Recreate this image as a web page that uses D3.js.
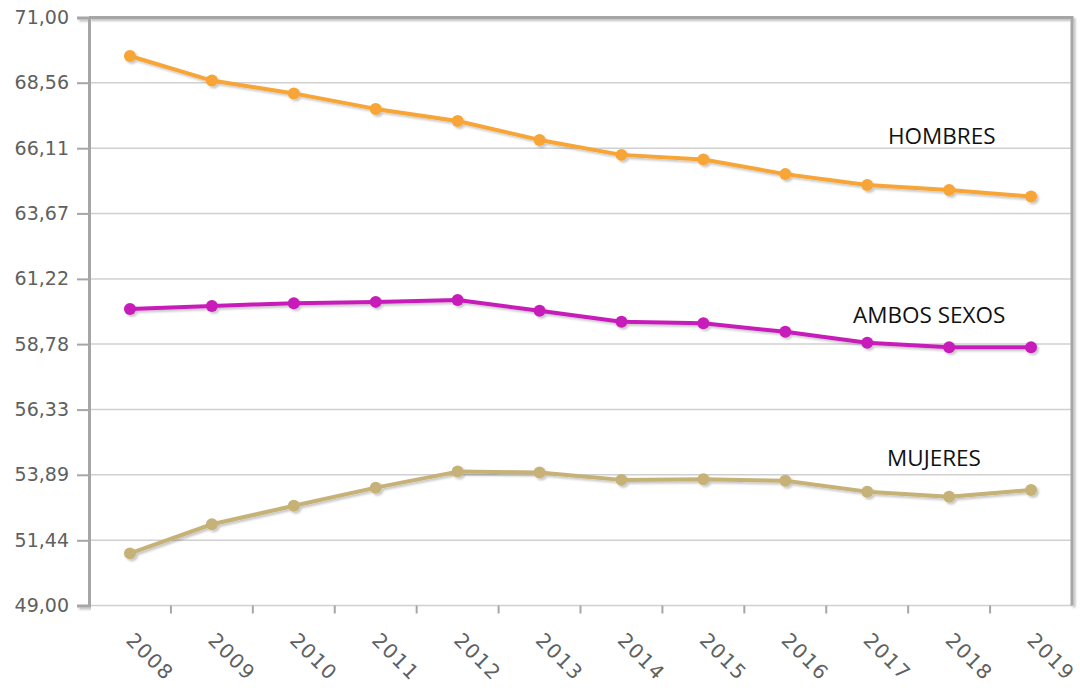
<!DOCTYPE html>
<html>
<head>
<meta charset="utf-8">
<script src="https://cdn.jsdelivr.net/npm/d3@7"></script>
<style>
  html, body { margin: 0; padding: 0; background: #fff; }
  svg { display: block; }
</style>
</head>
<body>
<svg id="chart" width="1080" height="688"></svg>
<script>
// Years on the horizontal axis
const years = ["2008", "2009", "2010", "2011", "2012", "2013", "2014", "2015", "2016", "2017", "2018", "2019"];

// Rates per series, one value per year
const hombres = [69.56, 68.64, 68.16, 67.58, 67.13, 66.42, 65.86, 65.69, 65.14, 64.73, 64.55, 64.30];
const ambosSexos = [60.09, 60.21, 60.31, 60.36, 60.43, 60.03, 59.62, 59.56, 59.24, 58.83, 58.66, 58.66];
const mujeres = [50.95, 52.04, 52.73, 53.41, 54.01, 53.98, 53.70, 53.72, 53.67, 53.26, 53.07, 53.32];

// Vertical axis tick values
const yTicks = [49.00, 51.44, 53.89, 56.33, 58.78, 61.22, 63.67, 66.11, 68.56, 71.00];

const seriesNames = ["HOMBRES", "AMBOS SEXOS", "MUJERES"];

const svg = d3.select("#chart");
const plot = { left: 89, right: 1072, top: 17.5, bottom: 605.5 };

const x = d3.scaleBand().domain(years).range([plot.left, plot.right]);
const y = d3.scaleLinear().domain([49, 71]).range([plot.bottom, plot.top]);

const fmt = v => d3.format(".2f")(v).replace(".", ",");

// Shadow used by lines, markers and frame
const defs = svg.append("defs");
const sh = defs.append("filter").attr("id", "shadow")
  .attr("x", "-10%").attr("y", "-10%").attr("width", "130%").attr("height", "130%");
sh.append("feDropShadow").attr("dx", 2).attr("dy", 2).attr("stdDeviation", 1.3)
  .attr("flood-color", "#000").attr("flood-opacity", 0.22);
const fsh = defs.append("filter").attr("id", "frameShadow")
  .attr("x", "-5%").attr("y", "-5%").attr("width", "110%").attr("height", "110%");
fsh.append("feDropShadow").attr("dx", 2).attr("dy", 2).attr("stdDeviation", 1.2)
  .attr("flood-color", "#000").attr("flood-opacity", 0.25);

// Horizontal gridlines
svg.append("g").selectAll("line").data(yTicks).join("line")
  .attr("x1", plot.left).attr("x2", plot.right)
  .attr("y1", d => y(d)).attr("y2", d => y(d))
  .attr("stroke", "#d0d0d0").attr("stroke-width", 1.5);

// Frame: top and right edges
svg.append("path")
  .attr("d", `M${plot.left},${plot.top} H${plot.right} V${plot.bottom}`)
  .attr("fill", "none").attr("stroke", "#a6a6a6").attr("stroke-width", 3)
  .attr("filter", "url(#frameShadow)");

// Left axis
const yAxis = d3.axisLeft(y).tickValues(yTicks).tickFormat(fmt).tickSize(12).tickPadding(8);
const gy = svg.append("g").attr("transform", `translate(${plot.left},0)`).call(yAxis);
gy.select(".domain").attr("stroke", "#a6a6a6").attr("stroke-width", 3)
  .attr("filter", "url(#frameShadow)");
gy.selectAll(".tick line").attr("stroke", "#a6a6a6").attr("stroke-width", 2);
gy.selectAll(".tick text")
  .attr("fill", "#606060")
  .style("font-family", "'DejaVu Sans', sans-serif")
  .style("font-size", "19px");

// Bottom axis with ticks at band edges
const xAxis = d3.axisBottom(x).tickSize(0).tickFormat(d => d);
const gx = svg.append("g").attr("transform", `translate(0,${plot.bottom})`).call(xAxis);
gx.select(".domain").attr("stroke", "#a6a6a6").attr("stroke-width", 3)
  .attr("filter", "url(#frameShadow)");
gx.selectAll(".tick text")
  .attr("fill", "#606060")
  .style("font-family", "'DejaVu Sans', sans-serif")
  .style("font-size", "20px")
  .style("letter-spacing", "1.5px")
  .attr("text-anchor", "start")
  .attr("dy", 0)
  .attr("x", 0).attr("y", 0)
  .attr("transform", "translate(-5,36) rotate(45)");
svg.append("g").selectAll("line").data(years.slice(1)).join("line")
  .attr("x1", d => x(d)).attr("x2", d => x(d))
  .attr("y1", plot.bottom).attr("y2", plot.bottom + 8)
  .attr("stroke", "#a6a6a6").attr("stroke-width", 2);

// Series lines with markers
const series = [
  { name: seriesNames[0], values: hombres, color: "#f8a537" },
  { name: seriesNames[1], values: ambosSexos, color: "#c71fb9" },
  { name: seriesNames[2], values: mujeres, color: "#c6b277" }
];
const line = d3.line()
  .x((d, i) => x(years[i]) + x.bandwidth() / 2)
  .y(d => y(d));

const gs = svg.append("g").attr("filter", "url(#shadow)");
series.forEach(s => {
  const g = gs.append("g");
  g.append("path").datum(s.values).attr("d", line)
    .attr("fill", "none").attr("stroke", s.color).attr("stroke-width", 4)
    .attr("stroke-linejoin", "round");
  g.selectAll("circle").data(s.values).join("circle")
    .attr("cx", (d, i) => x(years[i]) + x.bandwidth() / 2)
    .attr("cy", d => y(d))
    .attr("r", 6).attr("fill", s.color);
});

// Series names inside the plot
const labelPos = [
  { name: seriesNames[0], x: 888, y: 144 },
  { name: seriesNames[1], x: 853, y: 323 },
  { name: seriesNames[2], x: 887, y: 466 }
];
svg.append("g").selectAll("text").data(labelPos).join("text")
  .attr("x", d => d.x).attr("y", d => d.y)
  .attr("fill", "#111")
  .style("font-family", "'Open Sans', sans-serif")
  .style("font-size", "22.5px")
  .text(d => d.name);
</script>
</body>
</html>
